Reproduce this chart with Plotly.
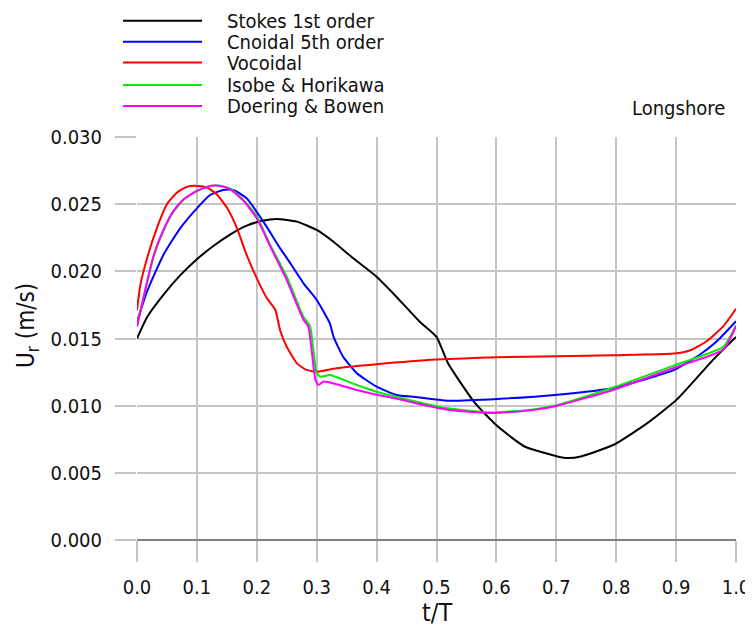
import plotly.graph_objects as go

# ---- data ----
t_stokes = [0, 0.017, 0.044, 0.072, 0.1, 0.128, 0.156, 0.183, 0.211, 0.233, 0.267, 0.3, 0.328,
            0.361, 0.4, 0.433, 0.472, 0.5, 0.519, 0.564, 0.602, 0.647, 0.702, 0.72, 0.741, 0.796,
            0.852, 0.901, 0.962, 1.0]
u_stokes = [0.0150, 0.0166, 0.01825, 0.0197, 0.0209, 0.0219, 0.02275, 0.0234, 0.02378, 0.0239,
            0.0237, 0.02308, 0.0222, 0.02097, 0.0196, 0.01811, 0.01625, 0.01512, 0.01318, 0.0102,
            0.00846, 0.00696, 0.00622, 0.0061, 0.00622, 0.00709, 0.0087, 0.01045, 0.01343, 0.01512]

t_cnoidal = [0, 0.0167, 0.044, 0.072, 0.1, 0.122, 0.144, 0.161, 0.183, 0.211, 0.239, 0.25, 0.278,
             0.3, 0.322, 0.328, 0.344, 0.367, 0.4, 0.433, 0.464, 0.519, 0.602, 0.702, 0.796, 0.896,
             0.94, 0.968, 1.0]
u_cnoidal = [0.01625, 0.01849, 0.02122, 0.0232, 0.02469, 0.02568, 0.02606, 0.02606, 0.02544, 0.0237,
             0.02171, 0.0210, 0.01911, 0.01787, 0.01613, 0.01514, 0.01365, 0.01241, 0.01141, 0.0108,
             0.01065, 0.01037, 0.0105, 0.01082, 0.01132, 0.01264, 0.01381, 0.0148, 0.01629]

t_vocoidal = [0, 0.0056, 0.0167, 0.033, 0.05, 0.067, 0.083, 0.1, 0.117, 0.133, 0.15, 0.167, 0.183,
              0.2, 0.217, 0.231, 0.239, 0.25, 0.267, 0.283, 0.3, 0.333, 0.4, 0.5, 0.602, 0.702,
              0.796, 0.896, 0.924, 0.951, 0.979, 1.0]
u_vocoidal = [0.01712, 0.01898, 0.02096, 0.0232, 0.0250, 0.02587, 0.02629, 0.02636, 0.02624, 0.02574,
              0.02475, 0.0232, 0.02122, 0.01948, 0.01799, 0.01712, 0.0156, 0.01439, 0.01315, 0.01266,
              0.01253, 0.01278, 0.01308, 0.01343, 0.01361, 0.01368, 0.01376, 0.01388, 0.01413,
              0.0148, 0.01592, 0.01721]

t_isobe = [0, 0.013, 0.028, 0.044, 0.061, 0.078, 0.1, 0.122, 0.139, 0.156, 0.178, 0.2, 0.222, 0.25,
           0.278, 0.289, 0.3, 0.306, 0.322, 0.367, 0.4, 0.444, 0.519, 0.591, 0.658, 0.702, 0.796,
           0.896, 0.979, 1.0]
u_isobe = [0.0160, 0.01845, 0.02115, 0.0230, 0.02445, 0.02535, 0.02598, 0.02636, 0.02638, 0.02615,
           0.0253, 0.0241, 0.0220, 0.0196, 0.0166, 0.0159, 0.01241, 0.01216, 0.01228, 0.01154,
           0.01104, 0.01054, 0.0098, 0.0095, 0.0097, 0.01005, 0.01137, 0.01298, 0.01438, 0.01597]

t_doering = [0, 0.013, 0.028, 0.044, 0.061, 0.078, 0.1, 0.122, 0.139, 0.156, 0.178, 0.2, 0.222,
             0.25, 0.278, 0.286, 0.298, 0.303, 0.311, 0.333, 0.367, 0.4, 0.444, 0.464, 0.519,
             0.591, 0.658, 0.702, 0.796, 0.896, 0.979, 1.0]
u_doering = [0.01588, 0.01849, 0.02122, 0.02308, 0.0245, 0.02537, 0.02599, 0.02636, 0.02636, 0.02611,
             0.02524, 0.02395, 0.0219, 0.01935, 0.01638, 0.01588, 0.01191, 0.01154, 0.01179, 0.0116,
             0.01117, 0.01082, 0.01042, 0.0102, 0.0097, 0.00945, 0.00965, 0.0100, 0.01119, 0.01281,
             0.01418, 0.01592]

series_names = ["Stokes 1st order", "Cnoidal 5th order", "Vocoidal", "Isobe & Horikawa", "Doering & Bowen"]
series_colors = ["#000000", "#0000ff", "#ff0000", "#00ee00", "#ff00ff"]
series_t = [t_stokes, t_cnoidal, t_vocoidal, t_isobe, t_doering]
series_u = [u_stokes, u_cnoidal, u_vocoidal, u_isobe, u_doering]

x_ticks = [0.0, 0.1, 0.2, 0.3, 0.4, 0.5, 0.6, 0.7, 0.8, 0.9, 1.0]
y_ticks = [0.000, 0.005, 0.010, 0.015, 0.020, 0.025, 0.030]

FONT = "DejaVu Sans Condensed, Liberation Sans, Arial, sans-serif"
GRID = "#c4c4c4"
TXT = "#111111"

fig = go.Figure()
for name, col, tt, uu in zip(series_names, series_colors, series_t, series_u):
    fig.add_trace(go.Scatter(x=tt, y=uu, mode="lines", name=name,
                             line=dict(color=col, width=2, shape="spline", smoothing=0.5),
                             showlegend=False))

# Page geometry: the HTML body has an 8px margin, so the figure is shrunk/offset by it.
PAGE_W, PAGE_H, BODY = 753, 627, 8
L, R, B, T = 137, 736, 540, 137          # plot area in page pixels
W, H = R - L, B - T
def px(x):
    return (x - L) / W
def py(y):
    return (B - y) / H

# Custom legend with long line samples like the original
legend_rows = [20.7, 41.7, 62.5, 85, 106]
for name, col, yy in zip(series_names, series_colors, legend_rows):
    fig.add_shape(type="line", xref="paper", yref="paper",
                  x0=px(123), x1=px(202), y0=py(yy), y1=py(yy),
                  line=dict(color=col, width=2))
    fig.add_annotation(xref="paper", yref="paper", x=px(226), y=py(yy + 0.5),
                       xanchor="left", yanchor="middle", text=name, showarrow=False,
                       borderpad=0,
                       font=dict(family=FONT, size=20, color=TXT))

fig.add_annotation(xref="paper", yref="paper", x=px(727), y=py(108),
                   xanchor="right", yanchor="middle", text="Longshore", showarrow=False,
                   font=dict(family=FONT, size=20, color=TXT))

# y-axis title
fig.add_annotation(xref="paper", yref="paper", x=px(27), y=py(326),
                   xanchor="center", yanchor="middle", textangle=-90,
                   text="U<sub>r</sub> (m/s)", showarrow=False,
                   font=dict(family=FONT, size=24, color=TXT))
# x-axis title
fig.add_annotation(xref="paper", yref="paper", x=0.5, y=py(612),
                   xanchor="center", yanchor="middle",
                   text="t/T", showarrow=False, borderpad=0,
                   font=dict(family=FONT, size=25, color=TXT))

fig.update_layout(
    width=PAGE_W - BODY, height=PAGE_H - BODY,
    margin=dict(l=L - BODY, r=PAGE_W - R, t=T - BODY, b=PAGE_H - B, autoexpand=False),
    paper_bgcolor="white", plot_bgcolor="white",
    font=dict(family=FONT, size=20, color=TXT),
    xaxis=dict(range=[0, 1], tickvals=x_ticks, tickformat=".1f", automargin=False,
               showgrid=True, gridcolor=GRID, gridwidth=1.5, zeroline=False,
               showline=False,
               ticks="outside", ticklen=21, tickwidth=1.5, tickcolor=GRID,
               ticklabelstandoff=8),
    yaxis=dict(range=[0, 0.030], tickvals=y_ticks, tickformat=".3f", automargin=False,
               showgrid=True, gridcolor=GRID, gridwidth=1.5,
               zeroline=True, zerolinecolor="#808080", zerolinewidth=1.5,
               showline=False,
               ticks="outside", ticklen=21, tickwidth=1.5, tickcolor=GRID,
               ticklabelstandoff=9),
)

fig.write_html("out.html")
